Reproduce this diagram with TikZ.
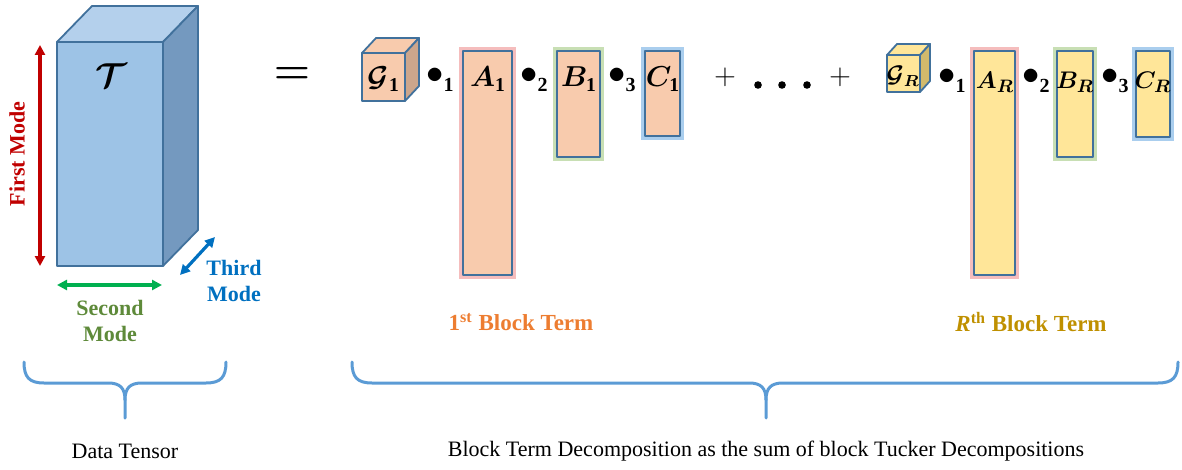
\documentclass[tikz,border=0pt]{standalone}
\usepackage{fontspec}
\setmainfont{Liberation Serif}
\usepackage{amsmath,bm,graphicx}
\usetikzlibrary{arrows.meta}
\definecolor{cubefront}{HTML}{9DC3E6}
\definecolor{cubetop}{HTML}{B4D0EC}
\definecolor{cubeside}{HTML}{7499BF}
\definecolor{edgeblue}{HTML}{41719C}
\definecolor{peach}{HTML}{F8CBAD}
\definecolor{peachside}{HTML}{CCA68C}
\definecolor{yel}{HTML}{FFE699}
\definecolor{yelside}{HTML}{D2BA6C}
\definecolor{moderd}{HTML}{C00000}
\definecolor{modegr}{HTML}{00B050}
\definecolor{modegrtxt}{HTML}{5E8A3A}
\definecolor{modebl}{HTML}{0070C0}
\definecolor{glowred}{HTML}{F2A7A7}
\definecolor{glowgreen}{HTML}{B5D49B}
\definecolor{glowblue}{HTML}{8DBDE8}
\definecolor{bracec}{HTML}{5B9BD5}
\definecolor{orangetxt}{HTML}{ED7D31}
\definecolor{goldtxt}{HTML}{BF9000}
\begin{document}
\begin{tikzpicture}[x=0.5pt,y=-0.5pt,
  edge/.style={draw=edgeblue,line width=0.9pt,line join=round},
  glow/.style={line width=3.8pt,opacity=0.75},
  modearrow/.style={line width=1.6pt,{Triangle[length=5pt,width=5pt]}-{Triangle[length=5pt,width=5pt]}},
  modelbl/.style={font=\fontsize{11}{12}\selectfont\bfseries,align=center,inner sep=0pt},
  mlabel/.style={font=\fontsize{14}{14}\selectfont,inner sep=0pt},
  rlabel/.style={font=\fontsize{12.5}{13}\selectfont,inner sep=0pt},
  prod/.style={inner sep=0pt},
  opsym/.style={font=\fontsize{13.5}{14}\selectfont,inner sep=0pt},
  brc/.style={draw=bracec,line width=1.5pt,line cap=round},
  caption/.style={font=\fontsize{11}{12}\selectfont,inner sep=0pt},
  termlbl/.style={font=\fontsize{11.5}{12}\selectfont\bfseries,inner sep=0pt}]
\useasboundingbox (0,0) rectangle (1182,470);

% ---- data tensor cube
\filldraw[fill=cubetop,edge] (57,42) -- (92,6) -- (198,6) -- (163,42) -- cycle;
\filldraw[fill=cubeside,edge] (163,42) -- (198,6) -- (198,230) -- (163,266) -- cycle;
\filldraw[fill=cubefront,edge] (57,42) rectangle (163,266);
\node[font=\fontsize{16}{16}\selectfont] (T) at (111,76) {$\boldsymbol{\mathcal{T}}$};

% ---- mode arrows
\coordinate (r1) at (40,45); \coordinate (r2) at (40,266);
\draw[modearrow,moderd] (r1) -- (r2);
\node[modelbl,text=moderd,rotate=90] (first) at (17,154) {First Mode};
\coordinate (g1) at (57,285); \coordinate (g2) at (162,285);
\draw[modearrow,modegr] (g1) -- (g2);
\node[modelbl,text=modegrtxt] (second) at (110,321) {Second\\[1pt]Mode};
\coordinate (b1) at (180,275); \coordinate (b2) at (215,237);
\draw[modearrow,modebl] (b1) -- (b2);
\node[modelbl,text=modebl] (third) at (234,281) {Third\\[1pt]Mode};

\node[font=\fontsize{21}{21}\selectfont\boldmath,inner sep=0pt] (eq) at (292,75) {$=$};

% ---- first block term
\filldraw[fill=peach,edge] (362,53) -- (376,38) -- (419,38) -- (405,53) -- cycle;
\filldraw[fill=peachside,edge] (405,53) -- (419,38) -- (419,86) -- (405,101) -- cycle;
\filldraw[fill=peach,edge] (362,53) rectangle (405,101);
\node[mlabel] (G1) at (384,79) {$\boldsymbol{\mathcal{G}}_{\mathbf{1}}$};

\draw[glow,glowred] (463,51) rectangle (512,275);
\filldraw[fill=peach,edge] (463,51) rectangle (512,275);
\node[mlabel] (A1) at (488,79) {$\boldsymbol{A}_{\mathbf{1}}$};
\draw[glow,glowgreen] (557,51) rectangle (600,157);
\filldraw[fill=peach,edge] (557,51) rectangle (600,157);
\node[mlabel] (B1) at (579,79) {$\boldsymbol{B}_{\mathbf{1}}$};
\draw[glow,glowblue] (645,51) rectangle (680,136);
\filldraw[fill=peach,edge] (645,51) rectangle (680,136);
\node[mlabel] (C1) at (663,79) {$\boldsymbol{C}_{\mathbf{1}}$};

\newcommand{\modeprod}[1]{{\fontsize{19}{19}\selectfont$\bullet$}\raisebox{-4pt}{\fontsize{10}{10}\selectfont$\mathbf{#1}$}}
\node[prod] (p11) at (440,80) {\modeprod{1}};
\node[prod] (p12) at (534,80) {\modeprod{2}};
\node[prod] (p13) at (622,80) {\modeprod{3}};

% ---- plus dots plus
\node[opsym] (plus1) at (725,77) {$+$};
\fill (758,85) circle (3.8) (782,85) circle (3.8) (807,85) circle (3.8);
\node[opsym] (plus2) at (840,77) {$+$};

% ---- R-th block term
\filldraw[fill=yel,edge] (887,55) -- (897,44) -- (930,44) -- (920,55) -- cycle;
\filldraw[fill=yelside,edge] (920,55) -- (930,44) -- (930,81) -- (920,92) -- cycle;
\filldraw[fill=yel,edge] (887,55) rectangle (920,92);
\node[font=\fontsize{11.5}{12}\selectfont,inner sep=0pt] (GR) at (903,76) {$\boldsymbol{\mathcal{G}}_{\boldsymbol{R}}$};

\draw[glow,glowred] (974,51) rectangle (1015,275);
\filldraw[fill=yel,edge] (974,51) rectangle (1015,275);
\node[rlabel] (AR) at (995,82) {$\boldsymbol{A}_{\boldsymbol{R}}$};
\draw[glow,glowgreen] (1057,51) rectangle (1093,157);
\filldraw[fill=yel,edge] (1057,51) rectangle (1093,157);
\node[rlabel] (BR) at (1075,82) {$\boldsymbol{B}_{\boldsymbol{R}}$};
\draw[glow,glowblue] (1136,51) rectangle (1170,137);
\filldraw[fill=yel,edge] (1136,51) rectangle (1170,137);
\node[rlabel] (CR) at (1153,82) {$\boldsymbol{C}_{\boldsymbol{R}}$};

\node[prod] (pR1) at (952,81) {\modeprod{1}};
\node[prod] (pR2) at (1036,81) {\modeprod{2}};
\node[prod] (pR3) at (1115,81) {\modeprod{3}};

% ---- term labels
\node[termlbl,text=orangetxt] (t1) at (521,322) {1\textsuperscript{st} Block Term};
\node[termlbl,text=goldtxt] (tR) at (1031,322) {\textit{R}\textsuperscript{th} Block Term};

% ---- braces
\draw[brc] (24,362) .. controls (24,377) and (29,383) .. (44,383) -- (108,383)
  .. controls (120,383) and (125,388) .. (125,400) -- (125,418);
\draw[brc] (125,400) .. controls (125,388) and (130,383) .. (142,383) -- (206,383)
  .. controls (221,383) and (226,377) .. (226,362);
\draw[brc] (352,362) .. controls (352,377) and (357,383) .. (372,383) -- (749,383)
  .. controls (761,383) and (766,388) .. (766,400) -- (766,418);
\draw[brc] (766,400) .. controls (766,388) and (771,383) .. (783,383) -- (1158,383)
  .. controls (1173,383) and (1178,377) .. (1178,362);

% ---- captions
\node[caption] (cap1) at (125,451) {Data Tensor};
\node[caption] (cap2) at (766,451) {Block Term Decomposition as the sum of block Tucker Decompositions};
\end{tikzpicture}
\end{document}
